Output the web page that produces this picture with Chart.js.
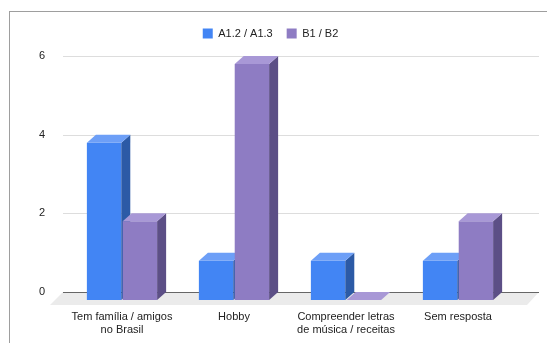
<html>
<head>
<meta charset="UTF-8">
<title>Motivação por nível</title>
<script src="https://cdn.jsdelivr.net/npm/chart.js@4/dist/chart.umd.min.js"></script>
<style>
  body { margin: 0; background: #fff; }
  #wrap { position: absolute; left: 0; top: 0; width: 547px; height: 343px; }
  #frame { position: absolute; left: 9px; top: 11px; width: 560px; height: 360px;
           border-left: 1px solid #9e9e9e; border-top: 1px solid #9e9e9e; }
</style>
</head>
<body>
<div id="wrap">
  <div id="frame"></div>
  <canvas id="chart1" width="547" height="343"></canvas>
</div>
<script>
var categories = [['Tem família / amigos', 'no Brasil'], 'Hobby', ['Compreender letras', 'de música / receitas'], 'Sem resposta'];
var seriesA = [4, 1, 1, 1];   // A1.2 / A1.3
var seriesB = [2, 6, 0, 2];   // B1 / B2
var yTicks = [0, 2, 4, 6];

// depth of the fake 3d extrusion
var DX = 9, DY = 8;

var faces = [
  { front: '#4285f4', top: '#6d9ff7', side: '#2c5aa6' },
  { front: '#8e7cc3', top: '#a898d6', side: '#5c4f86' }
];

var floor3d = {
  id: 'floor3d',
  beforeLayout: function (chart) {
    // leave a bit more room under the legend
    var lg = chart.legend;
    if (lg && !lg._tall) {
      var fit = lg.fit;
      lg.fit = function () { fit.call(this); this.height += 7; };
      lg._tall = true;
    }
  },
  afterLayout: function (chart) {
    // legend sits centred over the whole frame, not just the plot
    chart.legend.left += 9;
    chart.legend.right += 9;
  },
  beforeDatasetsDraw: function (chart) {
    var ctx = chart.ctx, a = chart.chartArea, y = chart.scales.y;
    var y0 = y.getPixelForValue(0);
    ctx.save();
    // floor slab
    ctx.fillStyle = '#ebebeb';
    ctx.beginPath();
    ctx.moveTo(a.left - 3, y0);
    ctx.lineTo(a.right + 25, y0);
    ctx.lineTo(a.right + 13, y0 + 13);
    ctx.lineTo(a.left - 16, y0 + 13);
    ctx.closePath();
    ctx.fill();
    // grid on the back wall
    yTicks.forEach(function (v) {
      var py = Math.round(y.getPixelForValue(v)) + 0.5;
      ctx.strokeStyle = v === 0 ? '#666' : '#dddddd';
      ctx.lineWidth = 1;
      ctx.beginPath();
      ctx.moveTo(a.left - 3, py);
      ctx.lineTo(a.right + 25, py);
      ctx.stroke();
    });
    ctx.restore();
  },
  // bars are drawn below, first series first, so the side faces stack right
  beforeDatasetDraw: function () { return false; },
  afterDatasetsDraw: function (chart) {
    var ctx = chart.ctx;
    chart.data.datasets.forEach(function (ds, i) {
      var f = faces[i];
      ctx.save();
      ctx.translate(0, DY);
      chart.getDatasetMeta(i).data.forEach(function (bar) {
        bar.draw(ctx);
        var p = bar.getProps(['x', 'y', 'base', 'width'], true);
        var l = p.x - p.width / 2, r = p.x + p.width / 2;
        // side face
        ctx.fillStyle = f.side;
        ctx.beginPath();
        ctx.moveTo(r, p.y);
        ctx.lineTo(r + DX, p.y - DY);
        ctx.lineTo(r + DX, p.base - DY);
        ctx.lineTo(r, p.base);
        ctx.closePath();
        ctx.fill();
        // top face
        ctx.fillStyle = f.top;
        ctx.beginPath();
        ctx.moveTo(l, p.y);
        ctx.lineTo(r, p.y);
        ctx.lineTo(r + DX, p.y - DY);
        ctx.lineTo(l + DX, p.y - DY);
        ctx.closePath();
        ctx.fill();
      });
      ctx.restore();
    });
  }
};

Chart.defaults.font.family = 'Arial, "Liberation Sans", sans-serif';
Chart.defaults.font.size = 11;
Chart.defaults.color = '#222';

new Chart(document.getElementById('chart1'), {
  type: 'bar',
  data: {
    labels: categories,
    datasets: [
      { label: 'A1.2 / A1.3', data: seriesA, backgroundColor: faces[0].front,
        categoryPercentage: 0.64, barPercentage: 0.96 },
      { label: 'B1 / B2', data: seriesB, backgroundColor: faces[1].front,
        categoryPercentage: 0.64, barPercentage: 0.96 }
    ]
  },
  options: {
    responsive: false,
    animation: false,
    layout: { padding: { left: 9, right: 33, top: 14, bottom: 0 } },
    plugins: {
      legend: {
        position: 'top',
        labels: { boxWidth: 10, boxHeight: 10, padding: 14, color: '#222' }
      },
      tooltip: { enabled: false }
    },
    scales: {
      x: {
        grid: { display: false, drawTicks: false },
        border: { display: false },
        ticks: { maxRotation: 0, autoSkip: false, padding: 18, color: '#222' },
        afterFit: function (s) { s.height = 51; }
      },
      y: {
        min: 0, max: 6,
        grid: { display: false, drawTicks: false },
        border: { display: false },
        ticks: { stepSize: 2, padding: 21, color: '#222' },
        afterFit: function (s) { s.width = 57; }
      }
    }
  },
  plugins: [floor3d]
});
</script>
</body>
</html>
